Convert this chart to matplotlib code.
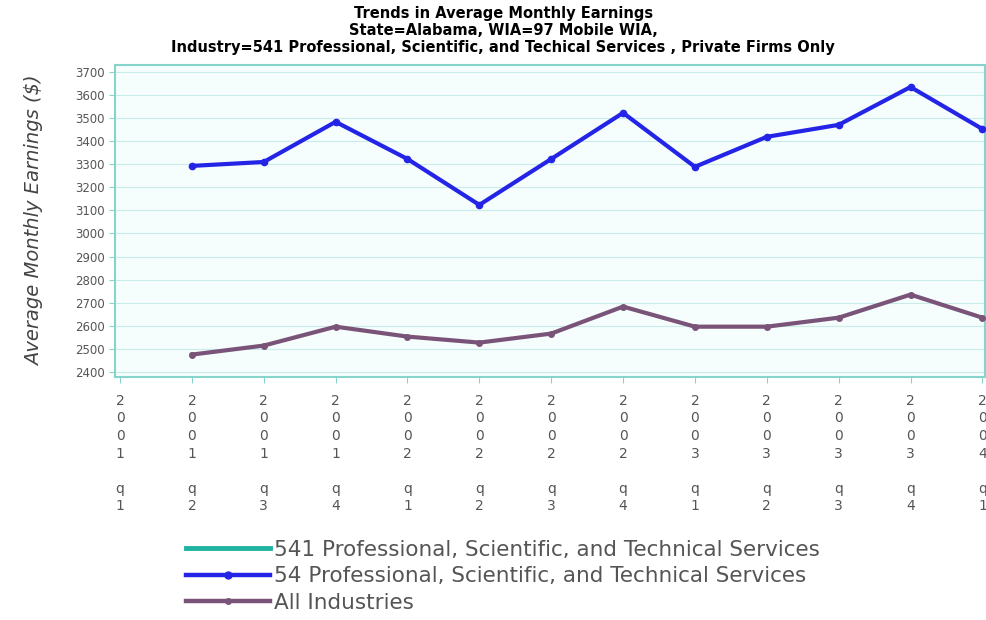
import matplotlib.pyplot as plt
from matplotlib.lines import Line2D

quarters = ['2001q1', '2001q2', '2001q3', '2001q4', '2002q1', '2002q2', '2002q3',
            '2002q4', '2003q1', '2003q2', '2003q3', '2003q4', '2004q1']
# 541 series has no values in the chart, only a legend entry
naics541 = [None] * 13
naics54 = [None, 3293, 3310, 3484, 3323, 3124, 3323, 3523, 3289, 3419, 3471, 3635, 3453]
all_ind = [None, 2475, 2514, 2596, 2553, 2527, 2566, 2683, 2596, 2596, 2635, 2735, 2635]
yticks = list(range(2400, 3701, 100))

def stack_label(q):
    # year digits stacked, blank line, then q + quarter
    return '\n'.join(q[:4]) + '\n\n' + '\n'.join(q[4:])

fig = plt.figure(figsize=(9.87, 6.2), dpi=100)
ax = fig.add_axes([0.1165, 0.392, 0.881, 0.503])
ax.set_facecolor('#f6fdfd')
for s in ax.spines.values():
    s.set_color('#86d4cc')
    s.set_linewidth(1.5)

x = list(range(len(quarters)))
xs = [i for i in x if naics54[i] is not None]
ax.plot(xs, [naics54[i] for i in xs], color='#2424e6', lw=3, marker='o', ms=4.5, zorder=3)
xs = [i for i in x if all_ind[i] is not None]
ax.plot(xs, [all_ind[i] for i in xs], color='#7a5478', lw=3, marker='o', ms=4, zorder=3)

ax.set_xlim(-0.07, 12.03)
ax.set_ylim(2378, 3730)
ax.set_yticks(yticks)
ax.set_yticklabels([str(v) for v in yticks], fontsize=8.5)
ax.set_xticks(x)
ax.set_xticklabels([stack_label(q) for q in quarters], fontsize=10, linespacing=1.33)
ax.tick_params(axis='both', colors='#86d4cc', labelcolor='#555555', length=4)
ax.tick_params(axis='x', pad=8)
ax.grid(axis='y', color='#c8ecea', lw=0.8)
ax.set_axisbelow(True)

ax.set_ylabel('Average Monthly Earnings ($)', fontsize=14, style='italic', color='#444444',
              labelpad=22)

fig.text(0.51, 0.99, 'Trends in Average Monthly Earnings\nState=Alabama, WIA=97 Mobile WIA,\n'
         'Industry=541 Professional, Scientific, and Techical Services , Private Firms Only',
         ha='center', va='top', fontsize=10.5, fontweight='bold', linespacing=1.15)

handles = [Line2D([], [], color='#1fb3a3', lw=3.5),
           Line2D([], [], color='#2424e6', lw=3.2, marker='o', ms=5),
           Line2D([], [], color='#7a5478', lw=3.2, marker='o', ms=4)]
labels = ['541 Professional, Scientific, and Technical Services',
          '54 Professional, Scientific, and Technical Services',
          'All Industries']
leg = fig.legend(handles, labels, loc='upper left', bbox_to_anchor=(0.178, 0.147),
                 frameon=False, fontsize=15.5, handlelength=3.9, handletextpad=0.15,
                 labelspacing=0.3, borderpad=0)
for t in leg.get_texts():
    t.set_color('#555555')

fig.savefig('out.png', dpi=100)
